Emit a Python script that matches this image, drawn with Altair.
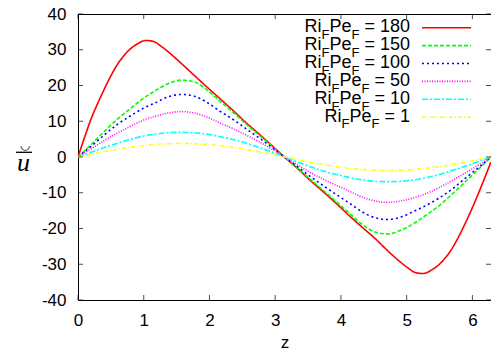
import altair as alt
import pandas as pd

# ---------------- data ----------------
z = [0.00, 0.20, 0.39, 0.59, 0.79, 0.98, 1.18, 1.37, 1.57, 1.77, 1.96, 2.16, 2.36, 2.55, 2.75, 2.95,
     3.14, 3.34, 3.53, 3.73, 3.93, 4.12, 4.32, 4.52, 4.71, 4.91, 5.11, 5.30, 5.50, 5.69, 5.89, 6.09, 6.28]

# the strongest case has its own, denser sampling (sharp peak and trough)
z180 = [0.00, 0.10, 0.20, 0.30, 0.40, 0.50, 0.60, 0.70, 0.80, 0.90, 1.03, 1.15, 1.27, 1.40, 1.57,
        1.77, 1.96, 2.16, 2.36, 2.55, 2.75, 2.95, 3.14, 3.34, 3.53, 3.73, 3.93, 4.12, 4.32, 4.52,
        4.71, 4.88, 5.01, 5.13, 5.25, 5.38, 5.48, 5.58, 5.68, 5.78, 5.88, 5.98, 6.08, 6.18, 6.28]
u180 = [0, 5.5, 10.7, 15.0, 19.0, 22.7, 25.9, 28.4, 30.3, 31.6, 32.6, 32.3, 30.9, 29.0, 26.2,
        22.8, 19.6, 16.3, 13.0, 9.7, 6.5, 3.2, 0, -3.2, -6.5, -9.7, -13.0, -16.3, -19.6, -22.8,
        -26.2, -29.0, -30.9, -32.3, -32.6, -31.6, -30.3, -28.4, -25.9, -22.7, -19.0, -15.0, -10.7, -6.2, -1.5]
u150 = [0, 3.5, 7.0, 10.4, 13.5, 16.2, 18.6, 20.5, 21.5, 21.0, 18.8, 15.6, 12.5, 9.3, 6.2, 3.1,
        0, -3.1, -6.2, -9.3, -12.5, -15.6, -18.8, -21.0, -21.5, -20.5, -18.6, -16.2, -13.5, -10.4, -7.0, -3.5, 0]
u100 = [0, 3.0, 6.0, 9.0, 11.4, 13.5, 15.2, 16.8, 17.5, 17.0, 15.3, 12.8, 10.5, 8.0, 5.4, 2.7,
        0, -2.7, -5.4, -8.0, -10.5, -12.8, -15.3, -17.0, -17.5, -16.8, -15.2, -13.5, -11.4, -9.0, -6.0, -3.0, 0]
u50 = [0, 2.3, 4.5, 6.6, 8.5, 10.2, 11.4, 12.3, 12.7, 12.3, 11.2, 9.5, 7.9, 6.2, 4.3, 2.2,
       0, -2.2, -4.3, -6.2, -7.9, -9.5, -11.2, -12.3, -12.7, -12.3, -11.4, -10.2, -8.5, -6.6, -4.5, -2.3, 0]
u10 = [0, 1.3, 2.6, 3.8, 4.9, 5.8, 6.4, 6.8, 6.9, 6.8, 6.4, 5.7, 4.9, 3.9, 2.7, 1.4,
       0, -1.4, -2.7, -3.9, -4.9, -5.7, -6.4, -6.8, -6.9, -6.8, -6.4, -5.8, -4.9, -3.8, -2.6, -1.3, 0]
u1 = [0, 0.7, 1.45, 2.1, 2.7, 3.15, 3.5, 3.7, 3.8, 3.7, 3.5, 3.15, 2.7, 2.1, 1.45, 0.75,
      0, -0.75, -1.45, -2.1, -2.7, -3.15, -3.5, -3.7, -3.8, -3.7, -3.5, -3.15, -2.7, -2.1, -1.45, -0.7, 0]

series_names = ["180", "150", "100", "50", "10", "1"]
series_z = [z180, z, z, z, z, z]
series_values = [u180, u150, u100, u50, u10, u1]
colors = ["#ff0000", "#00ff00", "#0000ff", "#ff00ff", "#00ffff", "#ffff00"]
dashes = [[1, 0], [4, 2], [2, 3], [1, 1.5], [6, 2, 2, 2], [4, 2, 1, 2]]

x_ticks = [0, 1, 2, 3, 4, 5, 6]
y_ticks = [-40, -30, -20, -10, 0, 10, 20, 30, 40]

# ---------------- layout ----------------
W, H = 413, 286
FONT = "Liberation Sans"
MF, SF = 18, 13          # legend main / subscript font sizes

rows = []
for name, zs, vals in zip(series_names, series_z, series_values):
    for zz, uu in zip(zs, vals):
        rows.append({"z": zz, "u": uu, "s": name})
df = pd.DataFrame(rows)

xscale = alt.Scale(domain=[0, 6.2832], nice=False, zero=False)
yscale = alt.Scale(domain=[-40, 40], nice=False, zero=False)
xaxis = alt.Axis(values=x_ticks, title="z", titleY=47, titleBaseline="alphabetic",
                 labelPadding=12, labelExpr="datum.value + ''", labelOverlap=False, labelFlush=False)
yaxis = alt.Axis(values=y_ticks, title=None, labelPadding=12,
                 labelExpr="datum.value + ''", labelOverlap=False, labelFlush=False)
color = alt.Color("s:N", scale=alt.Scale(domain=series_names, range=colors), legend=None)
dash = alt.StrokeDash("s:N", scale=alt.Scale(domain=series_names, range=dashes), legend=None)

lines = alt.Chart(df).mark_line(interpolate="monotone", strokeWidth=1.6, clip=True).encode(
    x=alt.X("z:Q", scale=xscale, axis=xaxis),
    y=alt.Y("u:Q", scale=yscale, axis=yaxis),
    color=color,
    strokeDash=dash,
)

xt_df = pd.DataFrame({"z": x_ticks})
yt_df = pd.DataFrame({"u": y_ticks})
tick_bottom = alt.Chart(xt_df).mark_tick(orient="vertical", size=5, thickness=1, color="black").encode(
    x=alt.X("z:Q", scale=xscale, axis=xaxis), y=alt.value(H - 2.5))
tick_top = alt.Chart(xt_df).mark_tick(orient="vertical", size=5, thickness=1, color="black").encode(
    x=alt.X("z:Q", scale=xscale, axis=xaxis), y=alt.value(2.5))
tick_left = alt.Chart(yt_df).mark_tick(orient="horizontal", size=5, thickness=1, color="black").encode(
    y=alt.Y("u:Q", scale=yscale, axis=yaxis), x=alt.value(2.5))
tick_right = alt.Chart(yt_df).mark_tick(orient="horizontal", size=5, thickness=1, color="black").encode(
    y=alt.Y("u:Q", scale=yscale, axis=yaxis), x=alt.value(W - 2.5))

# ---------------- manual legend (subscripts) ----------------
ADV = {" ": 278, "=": 584, "R": 722, "i": 222, "P": 667, "e": 556, "F": 611}
for d in "0123456789":
    ADV[d] = 556


def tw(s, size):
    return sum(ADV[c] for c in s) / 1000 * size


TX = 332          # right end of legend text
ROW0, ROWGAP = 13.7, 17.9
pieces = []
leg_lines = []
for i, name in enumerate(series_names):
    yc = ROW0 + i * ROWGAP
    yb = yc + 4.7
    ys = yb + 6.5
    eq = " = " + name
    x5 = TX
    x4 = x5 - tw(eq, MF)
    x3 = x4 - tw("F", SF)
    x2 = x3 - tw("Pe", MF)
    x1 = x2 - tw("F", SF)
    pieces += [
        {"px": x5, "py": yb, "t": eq, "fs": MF},
        {"px": x4, "py": ys, "t": "F", "fs": SF},
        {"px": x3, "py": yb, "t": "Pe", "fs": MF},
        {"px": x2, "py": ys, "t": "F", "fs": SF},
        {"px": x1, "py": yb, "t": "Ri", "fs": MF},
    ]
    leg_lines.append({"lx1": 344, "lx2": 393, "ly": yc, "s": name})

pieces_df = pd.DataFrame(pieces)
leg_text = alt.Chart(pieces_df).mark_text(align="right", baseline="alphabetic", font=FONT, color="black").encode(
    x=alt.X("px:Q", scale=None, axis=None),
    y=alt.Y("py:Q", scale=None, axis=None),
    text="t:N",
    size=alt.Size("fs:Q", scale=None, legend=None),
)
leg_rules = alt.Chart(pd.DataFrame(leg_lines)).mark_rule(strokeWidth=1.6).encode(
    x=alt.X("lx1:Q", scale=None, axis=None),
    x2="lx2:Q",
    y=alt.Y("ly:Q", scale=None, axis=None),
    color=color,
    strokeDash=dash,
)

# ---------------- y-axis symbol (u with bar and breve) ----------------
usym = alt.Chart(pd.DataFrame([{"px": -54.5, "py": 157, "t": "u"}])).mark_text(
    align="center", baseline="alphabetic", font="Liberation Serif", fontStyle="italic",
    fontSize=26, color="black").encode(
    x=alt.X("px:Q", scale=None, axis=None),
    y=alt.Y("py:Q", scale=None, axis=None),
    text="t:N",
)
breve = alt.Chart(pd.DataFrame([{"px": -53.0, "py": 131, "t": "\u25e1"}])).mark_text(
    align="center", baseline="middle", font="DejaVu Sans", fontSize=12, color="black").encode(
    x=alt.X("px:Q", scale=None, axis=None),
    y=alt.Y("py:Q", scale=None, axis=None),
    text="t:N",
)
ybar = alt.Chart(pd.DataFrame([{"bx1": -62, "bx2": -46, "by": 138.3}])).mark_rule(
    strokeWidth=1.3, color="black").encode(
    x=alt.X("bx1:Q", scale=None, axis=None),
    x2="bx2:Q",
    y=alt.Y("by:Q", scale=None, axis=None),
)

chart = alt.layer(
    lines, tick_bottom, tick_top, tick_left, tick_right, leg_rules, leg_text, usym, breve, ybar
).properties(
    width=W, height=H,
    autosize=alt.AutoSizeParams(type="none"),
    padding={"left": 70, "top": 6, "right": 0, "bottom": 58},
).configure_view(
    stroke="black", strokeWidth=1
).configure_axis(
    domain=False, ticks=False, grid=False,
    labelFont=FONT, labelFontSize=17, labelColor="black",
    titleFont=FONT, titleFontSize=17, titleColor="black", titleFontWeight="normal",
)

chart.save("out.html", embed_options={"renderer": "svg", "actions": False})
